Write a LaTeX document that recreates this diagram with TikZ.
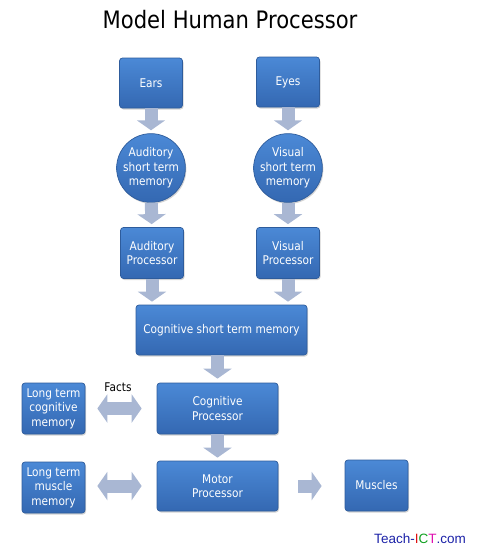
\documentclass[tikz,border=0pt]{standalone}
\usepackage{fontspec}
\setmainfont{DejaVu Sans}[FakeStretch=0.88]
\newfontfamily\arialfont{Liberation Sans}
\usetikzlibrary{arrows.meta,shadows}
\definecolor{boxtop}{HTML}{4B89D6}
\definecolor{boxbot}{HTML}{3468B2}
\definecolor{boxborder}{HTML}{2E5C9C}
\definecolor{arrowcol}{HTML}{A9B7D3}
\definecolor{teachblue}{HTML}{1C22A8}
\definecolor{teachred}{HTML}{E01010}
\definecolor{teachgreen}{HTML}{10A020}
\definecolor{teachpink}{HTML}{E010B0}
\begin{document}
\begin{tikzpicture}[x=1pt,y=-1pt,
  box/.style={draw=boxborder, line width=0.7pt, rounded corners=3pt,
    top color=boxtop, bottom color=boxbot, text=white, align=center,
    font=\fontsize{12}{14.5}\selectfont, inner sep=0pt,
    drop shadow={shadow xshift=1pt, shadow yshift=-1.5pt, opacity=0.35}},
  rbox/.style={box, minimum width=63pt, minimum height=51pt},
  cbox/.style={box, circle, rounded corners=0pt, minimum size=66pt},
  blockarrow/.style={line width=13pt, draw=arrowcol,
    -{Triangle[length=10pt,width=28pt]}},
  dblarrow/.style={line width=13pt, draw=arrowcol,
    {Triangle[length=10pt,width=28pt]}-{Triangle[length=10pt,width=28pt]}}
]
\useasboundingbox (0,0) rectangle (480,550);

\node[anchor=base, font=\fontsize{24}{28}\selectfont] (title) at (230,28) {Model Human Processor};

\node[rbox, minimum height=50pt] (ears) at (151,83) {Ears};
\node[rbox, minimum height=50pt] (eyes) at (288,82) {Eyes};
\node[cbox] (audstm) at (151,168) {Auditory\\short term\\memory};
\node[cbox] (visstm) at (288,168) {Visual\\short term\\memory};
\node[rbox] (audproc) at (152,253) {Auditory\\Processor};
\node[rbox] (visproc) at (288,253) {Visual\\Processor};
\node[box, minimum width=171pt, minimum height=50pt] (cstm) at (221.5,330) {Cognitive short term memory};
\node[box, minimum width=121pt, minimum height=51pt] (cproc) at (217.5,408.5) {Cognitive\\Processor};
\node[box, minimum width=121pt, minimum height=50pt] (motor) at (217.5,486) {Motor\\Processor};
\node[rbox] (ltcm) at (53.5,408.5) {Long term\\cognitive\\memory};
\node[rbox] (ltmm) at (53.5,487.5) {Long term\\muscle\\memory};
\node[rbox] (muscles) at (376.5,485.5) {Muscles};

\node[font=\fontsize{12}{14}\selectfont] (facts) at (118,387) {Facts};

\node[font=\arialfont\fontsize{13.5}{16}\selectfont] (teach) at (420,539)
  {\textcolor{teachblue}{Teach-}\textcolor{teachred}{I}\textcolor{teachgreen}{C}\textcolor{teachpink}{T}\textcolor{teachblue}{.com}};

\draw[blockarrow, shorten >=3pt] (ears) -- (audstm);
\draw[blockarrow, shorten >=3pt] (eyes) -- (visstm);
\draw[blockarrow, shorten >=3pt] (audstm) -- (audproc);
\draw[blockarrow, shorten >=3pt] (visstm) -- (visproc);
\draw[blockarrow, shorten >=3pt] (audproc.south) -- (audproc.south |- cstm.north);
\draw[blockarrow, shorten >=3pt] (visproc.south) -- (visproc.south |- cstm.north);
\draw[blockarrow, shorten >=4pt] (cproc.north |- cstm.south) -- (cproc.north);
\draw[blockarrow, shorten >=3pt] (cproc) -- (motor);
\draw[dblarrow, shorten <=12pt, shorten >=15pt] (ltcm.east) -- (cproc.west);
\draw[dblarrow, shorten <=12pt, shorten >=15pt] (ltmm.east |- motor.west) -- (motor.west);
\draw[blockarrow, shorten <=20pt, shorten >=23pt] (motor.east) -- (muscles.west |- motor.east);
\end{tikzpicture}
\end{document}
